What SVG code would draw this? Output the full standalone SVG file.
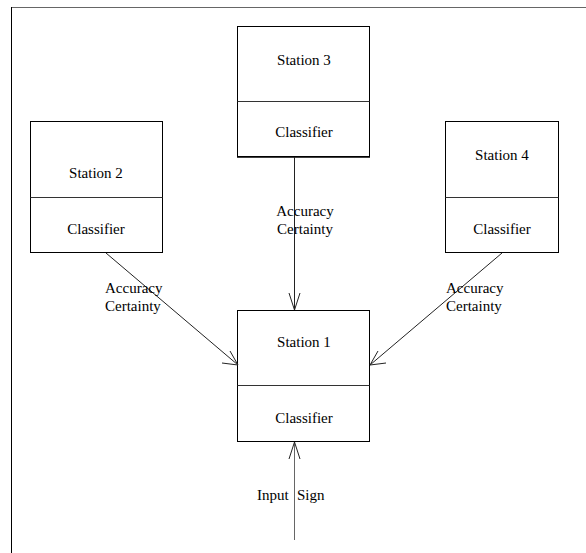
<svg xmlns="http://www.w3.org/2000/svg" width="586" height="553" viewBox="0 0 586 553">
<style>
.box{fill:#fff;stroke:#000;stroke-width:1}
.div{stroke:#333;stroke-width:1}
text{font-family:"Liberation Serif","Times New Roman",serif;font-size:15px;fill:#000}
.c{text-anchor:middle}
.ln{stroke:#222;stroke-width:1;fill:none}
.ah{stroke:#222;stroke-width:1;fill:none}
</style>
<rect width="586" height="553" fill="#fff"/>
<g id="frame">
<line x1="11" y1="7.5" x2="586" y2="7.5" stroke="#666" stroke-width="1"/>
<line x1="11.5" y1="7" x2="11.5" y2="553" stroke="#000" stroke-width="1"/>
</g>
<g id="station3">
<rect class="box" x="237.5" y="26.5" width="132" height="130"/>
<line class="div" x1="237.5" y1="101.5" x2="369.5" y2="101.5"/>
<line x1="237" y1="157" x2="370" y2="157" stroke="#000" stroke-width="1.5"/>
<text class="c" x="304" y="65">Station 3</text>
<text class="c" x="304" y="137">Classifier</text>
</g>
<g id="station2">
<rect class="box" x="30.5" y="121.5" width="132" height="131"/>
<line class="div" x1="30.5" y1="197.5" x2="162.5" y2="197.5"/>
<text class="c" x="96" y="178">Station 2</text>
<text class="c" x="96" y="234">Classifier</text>
</g>
<g id="station4">
<rect class="box" x="445.5" y="121.5" width="113" height="131"/>
<line class="div" x1="445.5" y1="197.5" x2="558.5" y2="197.5"/>
<text class="c" x="502" y="160">Station 4</text>
<text class="c" x="502" y="234">Classifier</text>
</g>
<g id="station1">
<rect class="box" x="237.5" y="310.5" width="132" height="131"/>
<line class="div" x1="237.5" y1="385.5" x2="369.5" y2="385.5"/>
<text class="c" x="304" y="347">Station 1</text>
<text class="c" x="304" y="423">Classifier</text>
</g>
<g id="connectors">
<line class="ln" x1="294.5" y1="157" x2="294.5" y2="310"/>
<polyline class="ah" points="289,293 294.5,310 300,293"/>
<line class="ln" x1="106" y1="253" x2="238" y2="365"/>
<polyline class="ah" points="222,363 238,365 230,351"/>
<line class="ln" x1="502" y1="253" x2="370" y2="365"/>
<polyline class="ah" points="386,363 370,365 378,351"/>
<line x1="294.5" y1="540" x2="294.5" y2="442" stroke="#666" stroke-width="1"/>
<polyline class="ah" points="289,459 294.5,442 300,459"/>
<text class="c" x="305" y="216">Accuracy</text>
<text class="c" x="305" y="234">Certainty</text>
<text x="105" y="293">Accuracy</text>
<text x="105" y="311">Certainty</text>
<text x="446" y="293">Accuracy</text>
<text x="446" y="311">Certainty</text>
<text x="257" y="500">Input</text>
<text x="297" y="500">Sign</text>
</g>
</svg>
